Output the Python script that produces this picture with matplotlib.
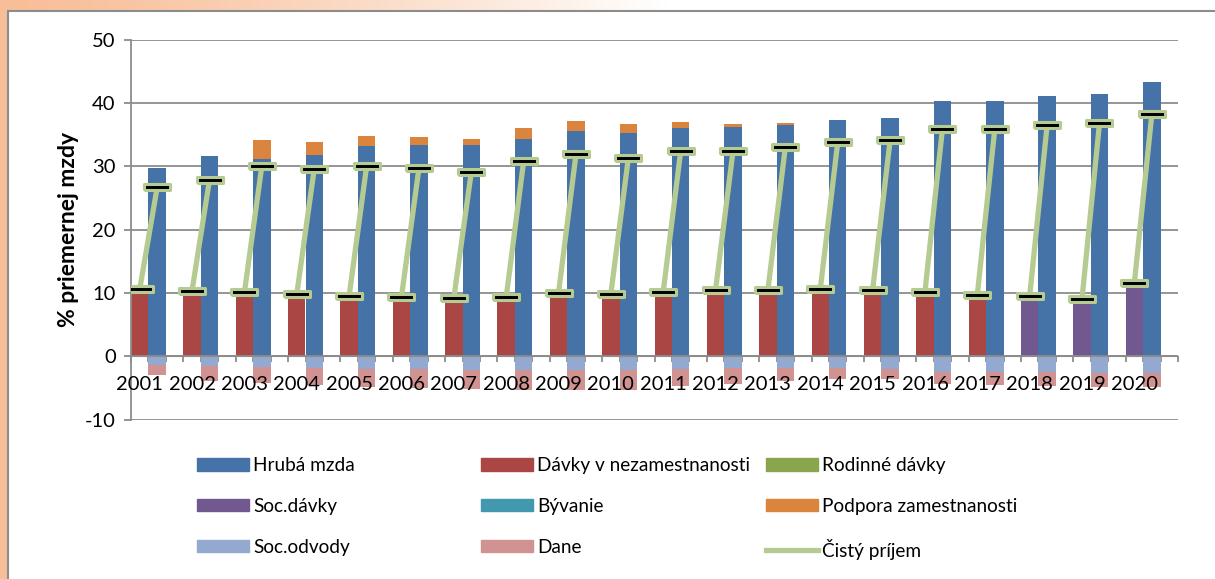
import numpy as np
import matplotlib.pyplot as plt
from matplotlib.patches import Patch, Rectangle
from matplotlib.lines import Line2D

plt.rcParams['font.family'] = ['Lato', 'DejaVu Sans']
plt.rcParams['axes.unicode_minus'] = False

# data (% priemernej mzdy)
roky = [str(r) for r in range(2001, 2021)]
hruba_mzda = [29.7, 31.7, 31.1, 31.8, 33.2, 33.4, 33.4, 34.3, 35.6, 35.2,
              36.1, 36.2, 36.6, 37.3, 37.6, 40.4, 40.4, 41.1, 41.5, 43.3]
podpora_zam = [0, 0, 3.1, 2.1, 1.6, 1.2, 0.9, 1.7, 1.6, 1.5,
               0.9, 0.5, 0.2, 0, 0, 0, 0, 0, 0, 0]
davky_nezam = [10.6, 10.4, 10.1, 9.8, 9.5, 9.4, 9.2, 9.3, 10.0, 9.9,
               10.2, 10.5, 10.5, 10.6, 10.5, 10.2, 9.7, 0, 0, 0]
soc_davky = [0, 0, 0, 0, 0, 0, 0, 0, 0, 0,
             0, 0, 0, 0, 0, 0, 0, 9.5, 9.1, 11.6]
soc_odvody = [1.3, 1.5, 1.75, 1.8, 2.05, 2.0, 2.1, 2.1, 2.15, 2.15,
              1.95, 1.8, 1.8, 1.8, 1.95, 2.4, 2.5, 2.5, 2.6, 2.6]
dane = [1.7, 2.35, 2.4, 2.7, 2.85, 3.0, 3.0, 3.2, 3.15, 3.15,
        2.75, 2.6, 2.05, 1.8, 1.55, 2.0, 2.0, 2.2, 2.2, 2.3]
cisty_nezam = [10.6, 10.4, 10.1, 9.8, 9.5, 9.4, 9.2, 9.3, 10.0, 9.9,
               10.2, 10.5, 10.5, 10.6, 10.5, 10.2, 9.7, 9.5, 9.1, 11.6]
cisty_zam = [26.7, 27.9, 30.1, 29.6, 30.0, 29.7, 29.1, 30.8, 31.9, 31.3,
             32.4, 32.4, 33.1, 33.8, 34.1, 35.9, 35.9, 36.5, 36.8, 38.2]

c_hruba = '#4572A7'
c_nezam = '#AA4643'
c_rodin = '#89A54E'
c_soc = '#71588F'
c_byv = '#4198AF'
c_podp = '#DB843D'
c_odv = '#93A9CF'
c_dane = '#D19392'
c_cist = '#B5CB91'
c_grid = '#8c8c8c'

fig = plt.figure(figsize=(12.15, 5.79), dpi=100)

# pozadie
bg = fig.add_axes([0, 0, 1, 1], zorder=-10)
bg.axis('off')
grad = np.linspace(0, 1, 300)
start = np.array([248, 190, 152]) / 255
rgb = start[None, :] + (1 - start[None, :]) * np.clip(grad / 0.55, 0, 1)[:, None] ** 1.3
bg.imshow(rgb[None, :, :], aspect='auto', extent=[0, 1, 0, 1])
bg.set_xlim(0, 1)
bg.set_ylim(0, 1)
bg.add_patch(Rectangle((8 / 1215, -0.05), 1.1, 1.05 - 11 / 579, facecolor='white',
                       edgecolor=c_grid, linewidth=1.5))

ax = fig.add_axes([131 / 1215, 1 - 419.7 / 579, 1047 / 1215, 380 / 579])
ax.set_axisbelow(True)

n = len(roky)
x_nezam = np.arange(n) * 3
x_zam = x_nezam + 1

hr = np.array(hruba_mzda)
odv = np.array(soc_odvody)
ax.bar(x_nezam, davky_nezam, width=1.0, color=c_nezam)
ax.bar(x_nezam, soc_davky, width=1.0, bottom=davky_nezam, color=c_soc)
ax.bar(x_zam, hruba_mzda, width=1.0, color=c_hruba)
ax.bar(x_zam, podpora_zam, width=1.0, bottom=hr, color=c_podp)
ax.bar(x_zam, -odv, width=1.0, color=c_odv)
ax.bar(x_zam, -np.array(dane), width=1.0, bottom=-odv, color=c_dane)

# cisty prijem: usek od nezamestnaneho k zamestnanemu
lx = np.column_stack([x_nezam, x_zam, np.full(n, np.nan)]).ravel()
ly = np.column_stack([cisty_nezam, cisty_zam, np.full(n, np.nan)]).ravel()
dash = [(-1, -0.24), (1, -0.24), (1, 0.24), (-1, 0.24), (-1, -0.24)]
ax.plot(lx, ly, color=c_cist, lw=3.8, marker=dash, markersize=19,
        markerfacecolor='black', markeredgecolor=c_cist, markeredgewidth=2.2,
        zorder=4, solid_capstyle='butt')

ax.set_xlim(-0.5, 3 * n - 0.5)
ax.set_ylim(-10, 50)
ax.set_yticks(range(-10, 51, 10))
ax.grid(axis='y', color=c_grid, lw=1.3)
ax.set_xticks(np.arange(-0.5, 3 * n, 1.0))
ax.set_xticklabels([])
for s in ['top', 'right']:
    ax.spines[s].set_visible(False)
ax.spines['left'].set_color(c_grid)
ax.spines['left'].set_linewidth(1.3)
ax.axhline(0, color=c_grid, lw=1.3, zorder=3)
ax.tick_params(axis='x', length=4.5, width=1.3, color=c_grid)
ax.tick_params(axis='y', length=5, width=1.3, color=c_grid, labelsize=14.5, pad=6)
ax.xaxis.set_ticks_position('bottom')
ax.spines['bottom'].set_position(('data', 0))
ax.spines['bottom'].set_color(c_grid)
for xi, r in zip(x_nezam, roky):
    ax.annotate(r, (xi, 0), xytext=(0, -14), textcoords='offset points',
                ha='center', va='top', fontsize=14.5, zorder=6)
ax.set_ylabel('% priemernej mzdy', fontsize=16.5, fontweight='bold', labelpad=4)

# legenda v troch stlpcoch
stlpce = [
    [Patch(color=c_hruba, label='Hrubá mzda'),
     Patch(color=c_soc, label='Soc.dávky'),
     Patch(color=c_odv, label='Soc.odvody')],
    [Patch(color=c_nezam, label='Dávky v nezamestnanosti'),
     Patch(color=c_byv, label='Bývanie'),
     Patch(color=c_dane, label='Dane')],
    [Patch(color=c_rodin, label='Rodinné dávky'),
     Patch(color=c_podp, label='Podpora zamestnanosti'),
     Line2D([], [], color=c_cist, lw=3.8, label='Čistý príjem')],
]
for i, h in enumerate(stlpce):
    x0 = [197, 481, 766][i] / 1215
    fig.legend(handles=h, loc='upper left', bbox_to_anchor=(x0, 1 - 457 / 579),
               frameon=False, fontsize=13.7, handlelength=2.75, handleheight=0.65,
               handletextpad=0.2, labelspacing=1.25, borderpad=0, borderaxespad=0)

fig.savefig('out.png', dpi=100)
